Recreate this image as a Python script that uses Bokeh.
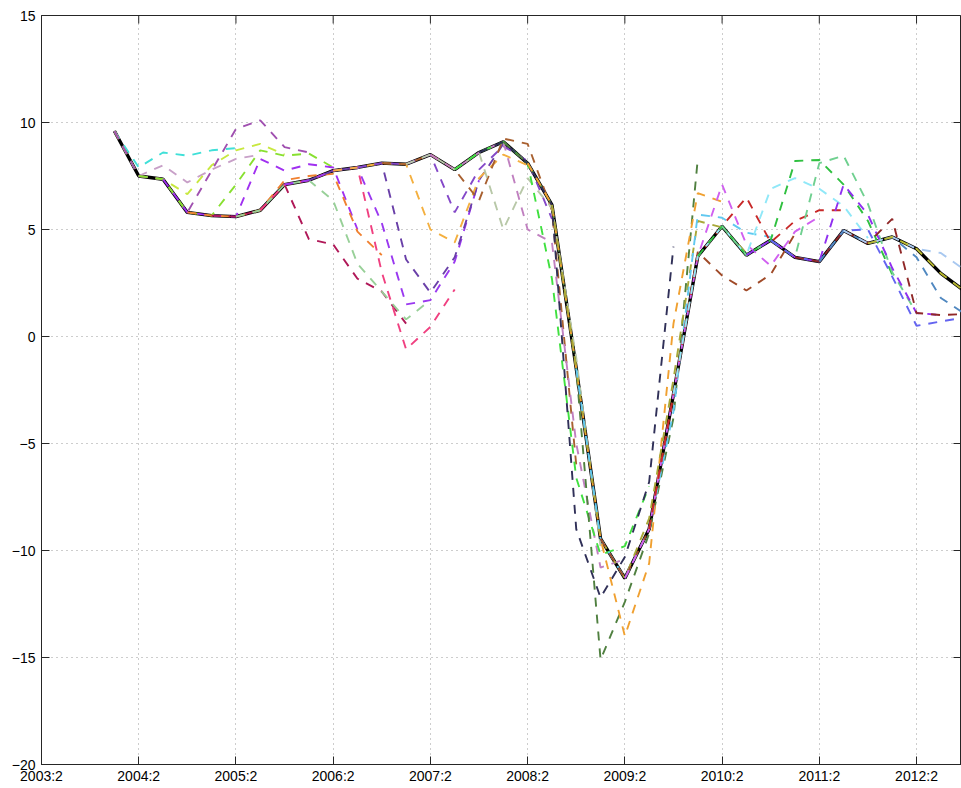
from bokeh.plotting import figure
from bokeh.models import Range1d, FixedTicker
from bokeh.embed import file_html
from bokeh.resources import INLINE

# Quarterly index: 0 = 2003:2, 38 = 2012:4
def qlabel(i):
    return f"{2003 + (i + 1) // 4}:{(i + 1) % 4 + 1}"

first_idx = 3  # 2004:1
x_ticks = list(range(0, 37, 4))
x_tick_labels = [qlabel(i) for i in x_ticks]
y_ticks = [-20, -15, -10, -5, 0, 5, 10, 15]
y_tick_labels = ["\u221220", "\u221215", "\u221210", "\u22125", "0", "5", "10", "15"]

# Realised series, 2004:1 .. 2012:4
actual = [9.6, 7.5, 7.35, 5.8, 5.65, 5.6, 5.9, 7.1, 7.3, 7.75, 7.9, 8.1,
          8.05, 8.5, 7.8, 8.6, 9.1, 8.1, 6.15, -1.5, -9.45, -11.3, -9.0, -2.7,
          3.75, 5.15, 3.8, 4.5, 3.7, 3.5, 4.95, 4.35, 4.65, 4.1, 2.95, 2.1]

# Forecast paths, one per forecast origin (values for the following quarters)
fc_2004q1 = [7.9, 8.6, 8.45, 8.7, 8.8]
fc_2004q2 = [8.0, 7.2, 7.8, 8.3, 8.5]
fc_2004q3 = [6.65, 8.0, 8.7, 9.0, 8.5]
fc_2004q4 = [7.75, 9.7, 10.1, 8.85, 8.6]
fc_2005q1 = [7.1, 8.7, 8.45, 8.55, 7.9]
fc_2005q2 = [8.3, 7.75, 8.05, 7.9, 5.0]
fc_2005q3 = [7.3, 7.5, 7.6, 4.9, 3.8]
fc_2005q4 = [4.55, 4.3, 2.7, 2.1, 0.6]
fc_2006q1 = [6.35, 3.4, 2.1, 0.8, 1.7]
fc_2006q2 = [7.9, 3.0, -0.6, 0.45, 2.2]
fc_2006q3 = [5.3, 1.5, 1.7, 3.5, 7.3]
fc_2006q4 = [3.6, 2.05, 3.7, 7.3, 9.0]
fc_2007q1 = [5.0, 4.4, 7.4, 8.5, 8.0]
fc_2007q2 = [5.8, 7.8, 8.9, 8.2, 5.5]
fc_2007q3 = [6.35, 9.25, 9.0, 5.9, -6.0]
fc_2007q4 = [5.0, 7.4, 6.0, -1.0, -9.8]
fc_2008q1 = [5.0, 4.4, -5.0, -10.8, -10.4]
fc_2008q2 = [2.7, -6.6, -10.2, -9.8, -7.0]
fc_2008q3 = [-9.0, -12.2, -10.3, -6.8, 4.2]
fc_2008q4 = [-15.1, -12.4, -9.2, -3.8, 8.3]
fc_2009q1 = [-14.0, -10.6, 0.6, 6.7, 6.3]
fc_2009q2 = [-8.5, -2.0, 5.4, 5.1, 3.9]
fc_2009q3 = [-3.5, 5.7, 5.55, 4.85, 4.65]
fc_2009q4 = [3.95, 2.85, 2.15, 2.9, 4.8]
fc_2010q1 = [7.1, 4.3, 3.3, 4.9, 5.6]
fc_2010q2 = [6.5, 4.4, 5.4, 5.9, 5.9]
fc_2010q3 = [6.9, 7.4, 6.9, 6.1, 4.6]
fc_2010q4 = [8.2, 8.25, 7.1, 5.4, 2.9]
fc_2011q1 = [8.1, 8.45, 6.2, 3.0, 1.1]
fc_2011q2 = [7.1, 5.7, 3.2, 1.1, 1.0]
fc_2011q3 = [5.0, 2.8, 0.5, 0.7, 0.9]
fc_2011q4 = [5.5, 1.1, 1.0, 1.05]
fc_2012q1 = [3.7, 1.8, 1.05]
fc_2012q2 = [3.9, 3.1]
fc_2012q3 = [2.1]

forecasts = [fc_2004q1, fc_2004q2, fc_2004q3, fc_2004q4, fc_2005q1, fc_2005q2,
             fc_2005q3, fc_2005q4, fc_2006q1, fc_2006q2, fc_2006q3, fc_2006q4,
             fc_2007q1, fc_2007q2, fc_2007q3, fc_2007q4, fc_2008q1, fc_2008q2,
             fc_2008q3, fc_2008q4, fc_2009q1, fc_2009q2, fc_2009q3, fc_2009q4,
             fc_2010q1, fc_2010q2, fc_2010q3, fc_2010q4, fc_2011q1, fc_2011q2,
             fc_2011q3, fc_2011q4, fc_2012q1, fc_2012q2, fc_2012q3]

colors = ["#40e0d8", "#c8a0c8", "#c8e840", "#a050b0", "#88e030", "#a030f0",
          "#f08030", "#b01858", "#98d098", "#f04080", "#9a38f0", "#6a40a8",
          "#f4b040", "#8448c8", "#a86030", "#b8c8a8", "#c080c0", "#40e040",
          "#303058", "#508040", "#f0a030", "#a8a838", "#60c8f0", "#a04a28",
          "#d060f0", "#c82828", "#90e8f8", "#30c040", "#70d090", "#9030f0",
          "#6464f0", "#902828", "#5088c0", "#a8c8f0", "#b8b830"]

history = 3  # quarters of realised data shown before each forecast origin

X_END = 37.85
Y_START, Y_END = -20, 15

p = figure(width=961, height=788,
           x_range=Range1d(0, X_END), y_range=Range1d(Y_START, Y_END),
           output_backend="svg", toolbar_location=None,
           min_border_left=41, min_border_right=0,
           min_border_top=15, min_border_bottom=24)
p.background_fill_color = "white"
p.border_fill_color = "white"
p.outline_line_color = "#262626"
p.outline_line_width = 1

FONT = "Liberation Sans"
AX = "#262626"

for ax in (p.xaxis[0], p.yaxis[0]):
    ax.axis_line_color = AX
    ax.major_tick_line_color = AX
    ax.major_tick_in = 8
    ax.major_tick_out = 0
    ax.minor_tick_line_color = None
    ax.major_label_text_font = FONT
    ax.major_label_text_font_size = "14px"
    ax.major_label_text_color = "#000000"

p.xaxis.ticker = FixedTicker(ticks=x_ticks)
p.xaxis.major_label_overrides = dict(zip(x_ticks, x_tick_labels))
p.xaxis.major_label_standoff = 3
p.yaxis.ticker = FixedTicker(ticks=y_ticks)
p.yaxis.major_label_overrides = dict(zip(y_ticks, y_tick_labels))
p.yaxis.major_label_standoff = 6

p.xgrid.ticker = FixedTicker(ticks=x_ticks)
p.ygrid.ticker = FixedTicker(ticks=y_ticks)
for g in (p.xgrid[0], p.ygrid[0]):
    g.grid_line_color = "#9a9a9a"
    g.grid_line_dash = "1 4"
    g.grid_line_width = 1

# Mirrored inward ticks along the top and right edges of the box
tick_dx = 8 / 24.3   # ~8 px in quarter units
tick_dy = 8 / 21.4   # ~8 px in value units
p.segment(x0=x_ticks, y0=[Y_END] * len(x_ticks),
          x1=x_ticks, y1=[Y_END - tick_dy] * len(x_ticks),
          line_color=AX, line_width=1)
p.segment(x0=[X_END] * len(y_ticks), y0=y_ticks,
          x1=[X_END - tick_dx] * len(y_ticks), y1=y_ticks,
          line_color=AX, line_width=1)

# Realised series
act_x = list(range(first_idx, first_idx + len(actual)))
p.line(act_x, actual, line_color="black", line_width=3.4)

# Forecast vintages, each with a short stretch of history before its origin
for k, (fc, col) in enumerate(zip(forecasts, colors)):
    origin = first_idx + k
    start = max(first_idx, origin - history)
    hist = actual[start - first_idx: origin - first_idx + 1]
    ys = hist + fc
    xs = list(range(start, start + len(ys)))
    p.line(xs, ys, line_color=col, line_width=1.9, line_dash="9 8")

open("out.html", "w").write(file_html(p, INLINE))
